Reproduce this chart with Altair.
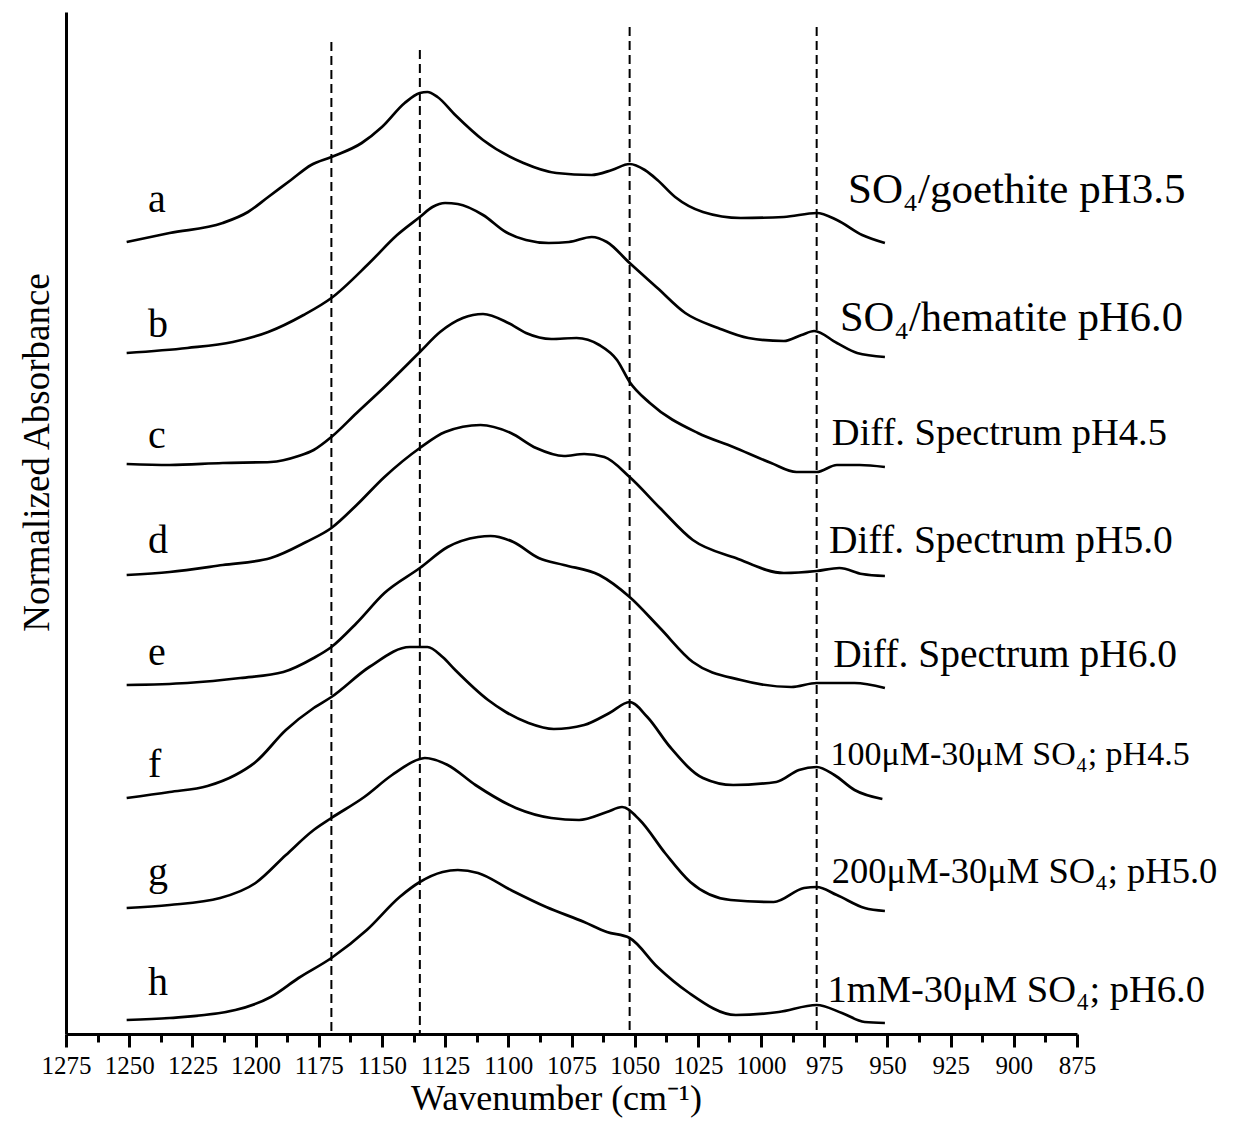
import altair as alt
import pandas as pd

# ---------------- data ----------------
series_names = ["a", "b", "c", "d", "e", "f", "g", "h"]

a_wn = [1251, 1234, 1213, 1203, 1195, 1186, 1178, 1170, 1158, 1150, 1141, 1135, 1132, 1128, 1121, 1110, 1094, 1081, 1067, 1059, 1052, 1046, 1041, 1034, 1023, 1008, 991, 978, 970, 960, 951]
a_abs = [7.92, 8.01, 8.11, 8.22, 8.37, 8.54, 8.69, 8.77, 8.91, 9.07, 9.31, 9.41, 9.42, 9.37, 9.19, 8.94, 8.71, 8.61, 8.59, 8.64, 8.70, 8.64, 8.54, 8.37, 8.22, 8.16, 8.17, 8.21, 8.14, 7.99, 7.91]

b_wn = [1251, 1227, 1209, 1195, 1181, 1170, 1155, 1144, 1135, 1130, 1125, 1120, 1110, 1101, 1093, 1084, 1076, 1067, 1061, 1052, 1041, 1030, 1017, 1005, 991, 984, 979, 970, 962, 951]
b_abs = [6.81, 6.86, 6.92, 7.02, 7.19, 7.36, 7.71, 7.99, 8.17, 8.27, 8.31, 8.30, 8.19, 8.02, 7.94, 7.91, 7.92, 7.97, 7.92, 7.71, 7.46, 7.21, 7.06, 6.96, 6.93, 6.99, 7.03, 6.91, 6.81, 6.77]

c_wn = [1251, 1234, 1213, 1194, 1183, 1177, 1170, 1160, 1149, 1135, 1127, 1118, 1110, 1100, 1093, 1083, 1073, 1064, 1057, 1052, 1044, 1025, 1011, 996, 986, 978, 970, 961, 951]
c_abs = [5.70, 5.69, 5.71, 5.72, 5.78, 5.84, 5.97, 6.21, 6.47, 6.82, 7.02, 7.16, 7.20, 7.11, 7.01, 6.95, 6.96, 6.89, 6.74, 6.52, 6.31, 6.01, 5.87, 5.71, 5.62, 5.62, 5.69, 5.69, 5.67]

d_wn = [1251, 1234, 1213, 1194, 1180, 1170, 1160, 1149, 1135, 1125, 1111, 1099, 1089, 1078, 1070, 1062, 1052, 1040, 1027, 1010, 991, 978, 969, 960, 951]
d_abs = [4.59, 4.62, 4.69, 4.76, 4.92, 5.06, 5.29, 5.57, 5.86, 6.02, 6.09, 6.01, 5.86, 5.78, 5.80, 5.77, 5.57, 5.26, 4.94, 4.76, 4.61, 4.63, 4.66, 4.60, 4.58]

e_wn = [1251, 1227, 1206, 1189, 1177, 1170, 1160, 1149, 1135, 1124, 1112, 1107, 1098, 1088, 1078, 1064, 1052, 1040, 1027, 1008, 988, 978, 963, 951]
e_abs = [3.49, 3.51, 3.56, 3.62, 3.76, 3.87, 4.11, 4.41, 4.66, 4.87, 4.97, 4.98, 4.92, 4.76, 4.69, 4.59, 4.37, 4.06, 3.72, 3.54, 3.47, 3.51, 3.51, 3.46]

f_wn = [1251, 1234, 1219, 1208, 1200, 1188, 1177, 1170, 1155, 1139, 1132, 1126, 1121, 1108, 1101, 1092, 1082, 1070, 1060, 1052, 1045, 1036, 1023, 1011, 994, 985, 978, 971, 963, 952]
f_abs = [2.36, 2.42, 2.48, 2.59, 2.72, 3.04, 3.26, 3.37, 3.67, 3.87, 3.87, 3.77, 3.64, 3.34, 3.22, 3.11, 3.05, 3.09, 3.21, 3.32, 3.17, 2.87, 2.56, 2.49, 2.52, 2.64, 2.67, 2.59, 2.44, 2.35]

g_wn = [1251, 1234, 1214, 1200, 1188, 1177, 1170, 1157, 1146, 1135, 1133, 1124, 1113, 1097, 1083, 1072, 1061, 1055, 1048, 1038, 1028, 1012, 995, 983, 978, 970, 959, 951]
g_abs = [1.26, 1.29, 1.36, 1.51, 1.79, 2.04, 2.16, 2.37, 2.59, 2.75, 2.76, 2.69, 2.49, 2.26, 2.16, 2.14, 2.22, 2.27, 2.14, 1.81, 1.52, 1.34, 1.32, 1.46, 1.47, 1.39, 1.26, 1.23]

h_wn = [1251, 1234, 1208, 1194, 1183, 1170, 1156, 1143, 1135, 1126, 1120, 1112, 1099, 1085, 1070, 1061, 1052, 1041, 1029, 1010, 993, 978, 968, 959, 951]
h_abs = [0.14, 0.16, 0.24, 0.37, 0.56, 0.76, 1.04, 1.37, 1.52, 1.62, 1.64, 1.61, 1.44, 1.27, 1.12, 1.02, 0.96, 0.67, 0.42, 0.19, 0.22, 0.29, 0.21, 0.12, 0.11]

# dashed reference lines (wavenumber, top of line in absorbance units)
ref_wn = [1170, 1135, 1052, 978]
ref_top = [9.92, 9.84, 10.07, 10.07]

# curve letters
letter_wn = [1242.6] * 8
letter_y = [8.22, 6.97, 5.86, 4.81, 3.69, 2.57, 1.49, 0.39]

# right-hand sample labels
label_text = [
    "SO\u2084/goethite pH3.5",
    "SO\u2084/hematite pH6.0",
    "Diff. Spectrum pH4.5",
    "Diff. Spectrum pH5.0",
    "Diff. Spectrum pH6.0",
    "100\u03bcM-30\u03bcM SO\u2084; pH4.5",
    "200\u03bcM-30\u03bcM SO\u2084; pH5.0",
    "1mM-30\u03bcM SO\u2084; pH6.0",
]
label_wn = [965.6, 968.8, 972.0, 973.1, 971.4, 972.5, 972.0, 973.7]
label_y = [8.31, 7.03, 5.89, 4.81, 3.67, 2.69, 1.51, 0.32]
label_size = [43, 42.5, 38.5, 39.5, 39.5, 34, 36.5, 38.5]

major_ticks = list(range(875, 1276, 25))
minor_ticks = [v + 12.5 for v in range(875, 1275, 25)]

# ---------------- build tables ----------------
all_wn = [a_wn, b_wn, c_wn, d_wn, e_wn, f_wn, g_wn, h_wn]
all_abs = [a_abs, b_abs, c_abs, d_abs, e_abs, f_abs, g_abs, h_abs]
rows = []
for name, wns, ab in zip(series_names, all_wn, all_abs):
    for w, v in zip(wns, ab):
        rows.append({"series": name, "wn": w, "absorb": v})
spectra = pd.DataFrame(rows)

refs = pd.DataFrame({"wn": ref_wn, "top": ref_top, "bottom": [0.0] * len(ref_wn)})
letters = pd.DataFrame({"wn": letter_wn, "y": letter_y, "t": series_names})
labels = pd.DataFrame({"wn": label_wn, "y": label_y, "t": label_text, "fs": label_size})

FONT = "Liberation Serif"
xscale = alt.Scale(domain=[875, 1275], reverse=True, nice=False, zero=False)
yscale = alt.Scale(domain=[0, 10.22], nice=False, zero=False)

x_major = alt.Axis(
    orient="bottom", values=major_ticks, format="d", grid=False,
    domain=True, domainColor="black", domainWidth=3,
    ticks=True, tickColor="black", tickWidth=3, tickSize=13,
    labelFont=FONT, labelFontSize=25, labelColor="black", labelPadding=6,
    labelFlush=False, labelOverlap=False,
    title="Wavenumber (cm\u207b\u00b9)", titleFont=FONT, titleFontSize=36,
    titleFontWeight="normal", titleColor="black",
    titleX=490, titleY=75, titleAlign="center", titleBaseline="alphabetic",
)
x_minor = alt.Axis(
    orient="bottom", values=minor_ticks, grid=False, domain=False,
    ticks=True, tickColor="black", tickWidth=3, tickSize=8,
    labels=False, title=None,
)
y_axis = alt.Axis(
    orient="left", grid=False, domain=True, domainColor="black", domainWidth=3,
    ticks=False, labels=False,
    title="Normalized Absorbance", titleFont=FONT, titleFontSize=37,
    titleFontWeight="normal", titleColor="black",
    titleAngle=270, titleX=-29, titleY=440,
    titleAlign="center", titleBaseline="middle",
)

lines = alt.Chart(spectra).mark_line(color="black", strokeWidth=2.7, interpolate="monotone").encode(
    x=alt.X("wn:Q", scale=xscale, axis=x_major),
    y=alt.Y("absorb:Q", scale=yscale, axis=y_axis),
    detail="series:N",
)

rules = alt.Chart(refs).mark_rule(color="black", strokeWidth=2, strokeDash=[9, 5]).encode(
    x=alt.X("wn:Q", scale=xscale, axis=x_minor),
    y=alt.Y("top:Q", scale=yscale, axis=None),
    y2="bottom:Q",
)

letter_text = alt.Chart(letters).mark_text(
    align="left", baseline="alphabetic", font=FONT, fontSize=40, color="black"
).encode(
    x=alt.X("wn:Q", scale=xscale, axis=None),
    y=alt.Y("y:Q", scale=yscale, axis=None),
    text="t:N",
)

label_marks = alt.Chart(labels).mark_text(
    align="left", baseline="alphabetic", font=FONT, color="black"
).encode(
    x=alt.X("wn:Q", scale=xscale, axis=None),
    y=alt.Y("y:Q", scale=yscale, axis=None),
    text="t:N",
    size=alt.Size("fs:Q", scale=None, legend=None),
)

chart = (
    alt.layer(lines, rules, letter_text, label_marks)
    .resolve_axis(x="independent", y="independent")
    .properties(
        width=1011, height=1022,
        autosize=alt.AutoSizeParams(type="none"),
        padding={"left": 58, "top": 4, "right": 160, "bottom": 84},
        background="white",
    )
    .configure_view(strokeWidth=0)
)

chart.save("out.html", embed_options={"renderer": "svg", "actions": False})
